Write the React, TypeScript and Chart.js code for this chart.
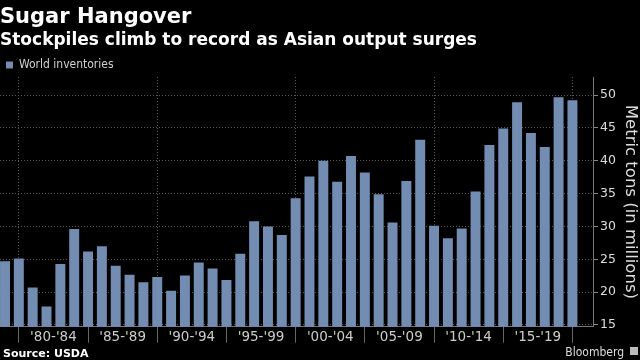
import React, { useEffect, useRef } from "react";
import { Chart, registerables } from "chart.js";

Chart.register(...registerables);

// Crop years (bar positions on the time axis)
const years = [
  1979, 1980, 1981, 1982, 1983, 1984, 1985, 1986, 1987, 1988,
  1989, 1990, 1991, 1992, 1993, 1994, 1995, 1996, 1997, 1998,
  1999, 2000, 2001, 2002, 2003, 2004, 2005, 2006, 2007, 2008,
  2009, 2010, 2011, 2012, 2013, 2014, 2015, 2016, 2017, 2018,
  2019, 2020,
];

// World sugar inventories, metric tons (millions)
const inventories = [
  24.7, 25.1, 20.7, 17.8, 24.3, 29.6, 26.2, 27.0, 24.0, 22.65,
  21.5, 22.3, 20.2, 22.55, 24.5, 23.6, 21.85, 25.85, 30.8, 30.0,
  28.7, 34.3, 37.6, 40.0, 36.8, 40.7, 38.2, 34.9, 30.6, 36.9,
  43.2, 30.1, 28.2, 29.7, 35.3, 42.4, 44.9, 48.9, 44.2, 42.1,
  49.65, 49.2,
];

const periodStarts = [1980, 1985, 1990, 1995, 2000, 2005, 2010, 2015, 2020];
const periodLabels = ["'80-'84", "'85-'89", "'90-'94", "'95-'99", "'00-'04", "'05-'09", "'10-'14", "'15-'19"];
const yTicks = [15, 20, 25, 30, 35, 40, 45, 50];

const titleText = "Sugar Hangover";
const subtitleText = "Stockpiles climb to record as Asian output surges";
const seriesName = "World inventories";
const yTitle = "Metric tons (in millions)";
const sourceText = "Source: USDA";
const brandText = "Bloomberg";

const FONT = '"DejaVu Sans", sans-serif';
const FONT_C = '"DejaVu Sans Condensed", "DejaVu Sans", sans-serif';
const BAR = "#738cb2";
const GRID = "#5a5a5a";

const footerPlugin = {
  id: "footer",
  afterDraw(chart: any) {
    const ctx = chart.ctx;
    ctx.save();
    ctx.textBaseline = "alphabetic";
    ctx.fillStyle = "#ffffff";
    ctx.font = `bold 11px ${FONT}`;
    ctx.textAlign = "left";
    ctx.fillText(sourceText, 3, 356.5);
    ctx.fillStyle = "#dddddd";
    ctx.font = `12px ${FONT_C}`;
    ctx.textAlign = "right";
    ctx.fillText(brandText, 624, 356);
    ctx.fillStyle = "#bbbbbb";
    ctx.fillRect(630, 347, 8, 8);
    ctx.restore();
  },
};

export default function App() {
  const ref = useRef<HTMLCanvasElement | null>(null);

  useEffect(() => {
    document.body.style.margin = "0";
    document.body.style.background = "#000";
    const canvas = ref.current;
    if (!canvas) return;

    const tickValues: number[] = [];
    periodStarts.forEach((s, i) => {
      tickValues.push(s);
      if (i < periodLabels.length) tickValues.push(s + 2.5);
    });

    const spacing = 593 / 42.847;
    const xMin = years[0] - 5 / spacing;
    const xMax = xMin + 593 / spacing;

    const chart = new Chart(canvas, {
      type: "bar",
      data: {
        datasets: [
          {
            label: seriesName,
            data: years.map((x, i) => ({ x, y: inventories[i] })),
            backgroundColor: BAR,
            borderWidth: 0,
            barPercentage: 0.72,
            categoryPercentage: 1,
          },
        ],
      },
      plugins: [footerPlugin],
      options: {
        animation: false,
        responsive: true,
        maintainAspectRatio: false,
        layout: { padding: 0 },
        font: { family: FONT },
        plugins: {
          title: {
            display: true,
            text: titleText,
            align: "start",
            color: "#ffffff",
            font: { family: FONT, size: 21, weight: "bold", lineHeight: 1.2 },
            padding: { top: 5, bottom: 0 },
          },
          subtitle: {
            display: true,
            text: subtitleText,
            align: "start",
            color: "#ffffff",
            font: { family: FONT, size: 17, weight: "bold", lineHeight: 1.2 },
            padding: { top: 0, bottom: 2.4 },
          },
          legend: {
            display: true,
            align: "start",
            maxHeight: 24,
            labels: {
              boxWidth: 7,
              boxHeight: 7,
              padding: 6,
              color: "#d0d0d0",
              font: { family: FONT_C, size: 12 },
            },
          },
          tooltip: { enabled: false },
        },
        scales: {
          x: {
            type: "linear",
            min: xMin,
            max: xMax,
            offset: false,
            afterBuildTicks: (scale: any) => {
              scale.ticks = tickValues.map((v) => ({ value: v }));
            },
            afterFit: (scale: any) => {
              scale.height = 33.3;
            },
            grid: {
              offset: false,
              drawOnChartArea: true,
              drawTicks: true,
              tickLength: 16,
              color: (c: any) => (c.tick && c.tick.value % 10 === 0 ? GRID : "rgba(0,0,0,0)"),
              tickColor: (c: any) => (c.tick && c.tick.value % 5 === 0 ? "#666666" : "rgba(0,0,0,0)"),
              tickBorderDash: [],
            },
            border: { display: true, color: "#777777", width: 1, dash: [1, 2] },
            ticks: {
              autoSkip: false,
              maxRotation: 0,
              minRotation: 0,
              padding: -13,
              color: "#cccccc",
              font: { family: FONT, size: 13.5 },
              callback: (value: any) => {
                const i = (Number(value) - 1982.5) / 5;
                if (Number.isInteger(i) && i >= 0 && i < periodLabels.length) return periodLabels[i];
                return "";
              },
            },
          },
          y: {
            type: "linear",
            position: "right",
            min: 14.74,
            max: 52.74,
            beginAtZero: false,
            afterBuildTicks: (scale: any) => {
              scale.ticks = yTicks.map((v) => ({ value: v }));
            },
            afterFit: (scale: any) => {
              scale.width = 47;
            },
            grid: {
              color: GRID,
              drawTicks: true,
              tickLength: 5,
              tickColor: "#888888",
              tickBorderDash: [],
            },
            border: { display: true, color: "#777777", width: 1, dash: [1, 2] },
            ticks: {
              padding: 2,
              color: "#dddddd",
              font: { family: FONT, size: 12.5 },
            },
            title: {
              display: true,
              text: yTitle,
              color: "#dddddd",
              font: { family: FONT, size: 16.5, lineHeight: 1.2 },
              padding: { top: 0, bottom: 1.5 },
            },
          },
        },
      },
    });

    return () => chart.destroy();
  }, []);

  return (
    <div style={{ width: 640, height: 360, position: "relative", background: "#000" }}>
      <canvas ref={ref} />
    </div>
  );
}
